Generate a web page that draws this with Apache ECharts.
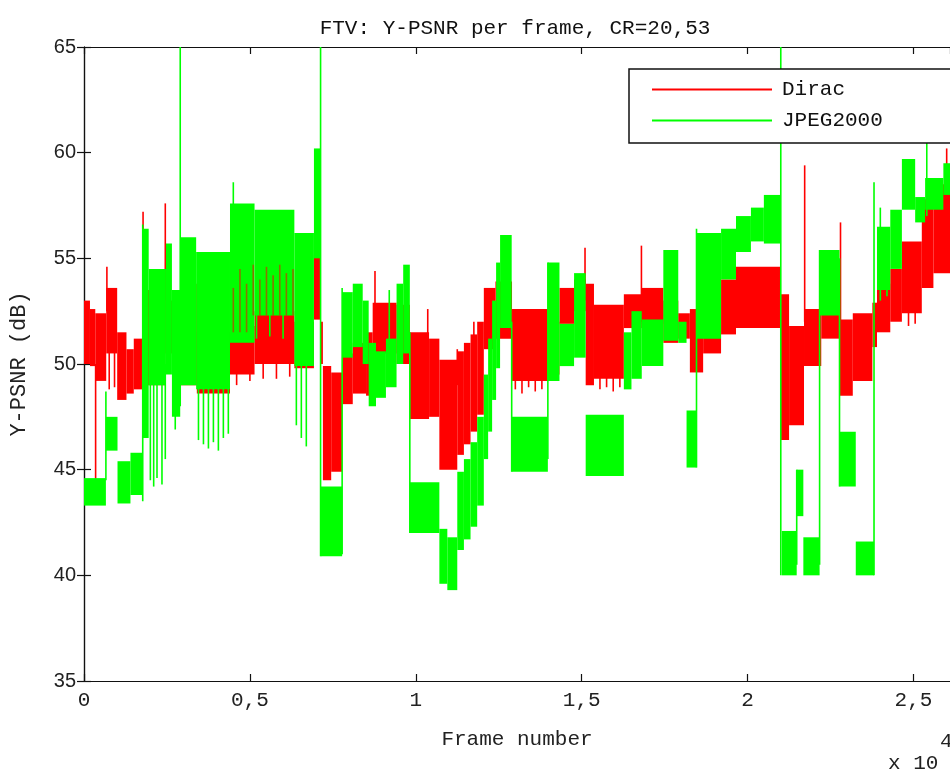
<!DOCTYPE html>
<html>
<head>
<meta charset="utf-8">
<script src="https://cdn.jsdelivr.net/npm/echarts@6/dist/echarts.min.js"></script>
<style>
  html, body { margin: 0; padding: 0; background: #fff; }
  #chart { width: 950px; height: 776px; }
</style>
</head>
<body>
<div id="chart"></div>
<script>
// Frame positions are in units of 10^4 frames; PSNR in dB.
// Dense per-frame traces are stored as envelope blocks [x0, x1, low, high]
// plus isolated strokes [x, low, high].

const diracBands = [
  [0.000, 0.018, 50.0, 53.0], [0.018, 0.034, 49.9, 52.6], [0.034, 0.067, 49.2, 52.4],
  [0.067, 0.100, 50.5, 53.6], [0.100, 0.128, 48.3, 51.5], [0.128, 0.150, 48.6, 50.7],
  [0.150, 0.178, 48.8, 51.2], [0.178, 0.245, 49.0, 53.5], [0.245, 0.262, 50.5, 55.0],
  [0.262, 0.290, 50.5, 53.0], [0.290, 0.340, 49.0, 53.8], [0.340, 0.440, 48.6, 51.5],
  [0.440, 0.514, 49.5, 51.8], [0.514, 0.634, 50.0, 52.5], [0.634, 0.693, 49.8, 52.0],
  [0.693, 0.712, 52.1, 55.2], [0.712, 0.720, 50.0, 52.0], [0.720, 0.745, 44.5, 49.9],
  [0.745, 0.778, 44.9, 49.6], [0.778, 0.810, 48.1, 50.5], [0.810, 0.850, 48.6, 51.0],
  [0.850, 0.870, 48.5, 51.5], [0.870, 0.942, 50.5, 52.9], [0.942, 0.982, 50.0, 52.8],
  [0.982, 1.040, 47.4, 51.5], [1.040, 1.071, 47.5, 51.2], [1.071, 1.125, 45.0, 50.2],
  [1.125, 1.145, 45.7, 50.6], [1.145, 1.165, 46.2, 51.0], [1.165, 1.185, 46.8, 51.4],
  [1.185, 1.205, 47.6, 52.0], [1.205, 1.240, 50.7, 53.6], [1.240, 1.290, 51.2, 53.9],
  [1.290, 1.398, 49.2, 52.6], [1.398, 1.433, 49.5, 52.0], [1.433, 1.477, 51.9, 53.6],
  [1.477, 1.512, 52.5, 54.0], [1.512, 1.537, 49.0, 53.8], [1.537, 1.627, 49.3, 52.8],
  [1.627, 1.681, 51.7, 53.3], [1.681, 1.746, 51.9, 53.6], [1.746, 1.791, 51.0, 53.0],
  [1.791, 1.826, 51.2, 52.4], [1.826, 1.866, 49.6, 52.6], [1.866, 1.920, 50.5, 52.0],
  [1.920, 1.965, 51.4, 54.0], [1.965, 2.099, 51.7, 54.6], [2.099, 2.125, 46.4, 53.3],
  [2.125, 2.170, 47.1, 51.8], [2.170, 2.222, 49.9, 52.6], [2.222, 2.277, 51.2, 53.3],
  [2.277, 2.317, 48.5, 52.1], [2.317, 2.376, 49.2, 52.4], [2.376, 2.390, 50.8, 52.9],
  [2.390, 2.430, 51.5, 53.8], [2.430, 2.465, 52.0, 54.5], [2.465, 2.525, 52.4, 55.8],
  [2.525, 2.560, 53.6, 57.8], [2.560, 2.610, 54.3, 58.5]
];

const diracSpikes = [
  [0.035, 44.5, 50.0], [0.069, 52.5, 54.6], [0.076, 48.8, 51.0], [0.092, 48.9, 51.0],
  [0.178, 55.0, 57.2], [0.245, 53.0, 57.6], [0.330, 51.5, 54.2],
  [0.460, 49.0, 51.0], [0.500, 49.2, 51.0], [0.540, 49.3, 51.0], [0.580, 49.3, 51.0],
  [0.620, 49.4, 51.0], [0.877, 52.5, 54.4], [1.036, 51.0, 52.6], [1.125, 49.0, 50.7],
  [1.175, 50.0, 52.0], [1.300, 48.8, 50.0], [1.320, 48.6, 50.0], [1.340, 48.9, 50.0],
  [1.360, 48.7, 50.0], [1.380, 48.8, 50.0], [1.510, 53.0, 55.5], [1.555, 48.8, 50.0],
  [1.575, 48.9, 50.0], [1.595, 48.7, 50.0], [1.615, 48.9, 50.0], [1.680, 52.0, 55.6],
  [2.172, 52.0, 59.4], [2.280, 51.5, 56.7], [2.485, 51.8, 53.0], [2.505, 51.9, 53.0],
  [2.600, 57.0, 60.2]
];

// Dirac strokes that show through the JPEG2000 trace
const diracOverlay = [
  [0.450, 51.5, 53.6], [0.470, 51.5, 54.5], [0.490, 51.5, 53.8], [0.510, 52.3, 54.7],
  [0.530, 52.3, 54.0], [0.550, 52.3, 54.6], [0.570, 52.3, 54.2], [0.590, 52.3, 54.7],
  [0.610, 52.3, 54.3], [0.630, 52.3, 54.5]
];

const jpegBands = [
  [0.000, 0.066, 43.3, 44.6], [0.066, 0.101, 45.9, 47.5], [0.101, 0.140, 43.4, 45.4],
  [0.140, 0.177, 43.8, 45.8], [0.177, 0.195, 46.5, 56.4], [0.195, 0.247, 49.0, 54.5],
  [0.247, 0.265, 49.5, 55.7], [0.265, 0.290, 47.5, 53.5], [0.290, 0.338, 49.0, 56.0],
  [0.338, 0.440, 48.8, 55.3], [0.440, 0.514, 51.0, 57.6], [0.514, 0.634, 52.3, 57.3],
  [0.634, 0.693, 49.9, 56.2], [0.693, 0.713, 55.0, 60.2], [0.713, 0.778, 40.9, 44.2],
  [0.778, 0.810, 50.3, 53.4], [0.810, 0.840, 50.8, 53.8], [0.840, 0.858, 50.0, 53.0],
  [0.858, 0.880, 48.0, 51.0], [0.880, 0.910, 48.4, 50.6], [0.910, 0.942, 48.9, 51.2],
  [0.942, 0.962, 50.0, 53.8], [0.962, 0.982, 50.5, 54.7], [0.982, 1.071, 42.0, 44.4],
  [1.071, 1.095, 39.6, 42.2], [1.095, 1.125, 39.3, 41.8], [1.125, 1.145, 41.2, 44.9],
  [1.145, 1.165, 41.7, 45.5], [1.165, 1.185, 42.3, 46.3], [1.185, 1.205, 43.3, 47.5],
  [1.205, 1.218, 45.5, 49.5], [1.218, 1.230, 46.8, 51.2], [1.230, 1.242, 48.3, 53.0],
  [1.242, 1.254, 49.8, 54.8], [1.254, 1.289, 51.7, 56.1], [1.289, 1.398, 44.9, 47.5],
  [1.398, 1.433, 49.2, 54.8], [1.433, 1.477, 49.9, 51.9], [1.477, 1.512, 50.3, 54.3],
  [1.512, 1.627, 44.7, 47.6], [1.627, 1.650, 48.8, 51.5], [1.650, 1.681, 49.3, 52.5],
  [1.681, 1.746, 49.9, 52.1], [1.746, 1.791, 51.1, 55.4], [1.791, 1.816, 51.0, 52.0],
  [1.816, 1.846, 45.1, 47.8], [1.846, 1.920, 51.2, 56.2], [1.920, 1.965, 54.0, 56.4],
  [1.965, 2.010, 55.3, 57.0], [2.010, 2.049, 55.8, 57.4], [2.049, 2.099, 55.7, 58.0],
  [2.103, 2.148, 40.0, 42.1], [2.148, 2.168, 42.8, 45.0], [2.168, 2.217, 40.0, 41.8],
  [2.217, 2.277, 52.3, 55.4], [2.277, 2.326, 44.2, 46.8], [2.326, 2.381, 40.0, 41.6],
  [2.390, 2.430, 53.5, 56.5], [2.430, 2.465, 54.5, 57.3], [2.465, 2.505, 57.3, 59.7],
  [2.505, 2.535, 56.7, 57.9], [2.535, 2.590, 57.3, 58.8], [2.590, 2.610, 58.0, 59.5]
];

const jpegSpikes = [
  [0.066, 44.5, 48.7], [0.177, 43.5, 56.6], [0.200, 44.5, 50.0], [0.210, 44.2, 50.0],
  [0.220, 44.6, 50.0], [0.235, 44.3, 50.0], [0.245, 45.5, 50.0], [0.275, 46.9, 50.0],
  [0.290, 48.0, 65.0], [0.345, 46.4, 50.0], [0.360, 46.2, 50.0], [0.375, 46.0, 50.0],
  [0.390, 46.3, 50.0], [0.405, 45.9, 50.0], [0.420, 46.5, 50.0], [0.435, 46.7, 50.0],
  [0.450, 56.0, 58.6], [0.520, 51.2, 53.0], [0.560, 51.3, 53.0], [0.600, 51.2, 53.0],
  [0.640, 47.1, 50.0], [0.655, 46.5, 50.0], [0.670, 46.1, 50.0], [0.713, 40.9, 65.0],
  [0.778, 41.0, 53.6], [0.920, 50.5, 53.5], [0.982, 42.0, 51.5], [1.289, 44.9, 52.0],
  [1.398, 45.5, 54.8], [1.846, 45.1, 56.4], [2.100, 40.0, 65.0], [2.148, 40.5, 45.0],
  [2.217, 40.5, 55.4], [2.277, 44.2, 55.0], [2.381, 40.0, 58.6], [2.400, 53.0, 57.4],
  [2.420, 53.2, 55.0], [2.540, 57.0, 60.7]
];

const yTicks = { min: 35, max: 65, step: 5 };
const xTicks = { min: 0, max: 2.61, step: 0.5 };

const RED = '#ff0000';
const GREEN = '#00ff00';
const MONO = '"Liberation Mono", "DejaVu Sans Mono", monospace';
const SANS = '"Liberation Sans", Arial, sans-serif';

function bandRenderer(color) {
  return function (params, api) {
    const cs = params.coordSys;
    const a = api.coord([api.value(0), api.value(3)]);
    const b = api.coord([api.value(1), api.value(2)]);
    const top = Math.max(a[1], cs.y);
    const bottom = Math.min(b[1], cs.y + cs.height);
    const left = Math.max(a[0], cs.x);
    const right = Math.min(b[0], cs.x + cs.width);
    return {
      type: 'rect',
      shape: { x: left, y: top, width: Math.max(right - left, 1), height: bottom - top },
      style: { fill: color }
    };
  };
}

function spikeRenderer(color, width, opacity) {
  return function (params, api) {
    const cs = params.coordSys;
    const a = api.coord([api.value(0), api.value(2)]);
    const b = api.coord([api.value(0), api.value(1)]);
    return {
      type: 'line',
      shape: { x1: a[0], y1: Math.max(a[1], cs.y), x2: b[0], y2: Math.min(b[1], cs.y + cs.height) },
      style: { stroke: color, lineWidth: width, opacity: opacity }
    };
  };
}

const chart = echarts.init(document.getElementById('chart'), null, { renderer: 'canvas' });

const axisLine = { show: true, lineStyle: { color: '#111', width: 1.2 } };
const axisTick = { show: true, inside: true, length: 7, lineStyle: { color: '#111', width: 1.2 } };

chart.setOption({
  animation: false,
  backgroundColor: '#fff',
  grid: { left: 84, top: 47, width: 867.6, height: 634, containLabel: false },
  legend: {
    left: 629, top: 69,
    orient: 'vertical',
    backgroundColor: '#fff',
    borderColor: '#111', borderWidth: 1.5, borderRadius: 0,
    padding: [10, 77, 12, 23],
    itemGap: 10,
    itemWidth: 120, itemHeight: 2,
    textStyle: { fontFamily: MONO, fontSize: 21, color: '#111', padding: [0, 0, 0, 5] },
    data: [{ name: 'Dirac', icon: 'rect' }, { name: 'JPEG2000', icon: 'rect' }],
    selectedMode: false,
    z: 10
  },
  xAxis: [
    {
      type: 'value', position: 'bottom',
      min: xTicks.min, max: xTicks.max, interval: xTicks.step,
      axisLine: axisLine, axisTick: axisTick, splitLine: { show: false },
      axisLabel: {
        margin: 9, showMaxLabel: false,
        fontFamily: MONO, fontSize: 21, color: '#222',
        formatter: v => String(v).replace('.', ',')
      },
      name: 'Frame number', nameLocation: 'middle', nameGap: 48,
      nameTextStyle: { fontFamily: MONO, fontSize: 21, color: '#222' }
    },
    {
      type: 'value', position: 'top',
      min: xTicks.min, max: xTicks.max, interval: xTicks.step,
      axisLine: axisLine, axisTick: axisTick, splitLine: { show: false },
      axisLabel: { show: false }
    }
  ],
  yAxis: [
    {
      type: 'value', position: 'left',
      min: yTicks.min, max: yTicks.max, interval: yTicks.step,
      axisLine: axisLine, axisTick: axisTick, splitLine: { show: false },
      axisLabel: { margin: 8, fontFamily: SANS, fontSize: 20, color: '#222' },
      name: 'Y-PSNR (dB)', nameLocation: 'middle', nameGap: 54, nameRotate: 90,
      nameTextStyle: { fontFamily: MONO, fontSize: 22, color: '#222' }
    },
    {
      type: 'value', position: 'right',
      min: yTicks.min, max: yTicks.max, interval: yTicks.step,
      axisLine: axisLine, axisTick: axisTick, splitLine: { show: false },
      axisLabel: { show: false }
    }
  ],
  graphic: [
    {
      type: 'text', x: 515, y: 28, z: 20,
      style: {
        text: 'FTV: Y-PSNR per frame, CR=20,53',
        font: '21px ' + MONO, fill: '#111',
        textAlign: 'center', textVerticalAlign: 'middle'
      }
    },
    {
      type: 'text', x: 888, y: 763, z: 20,
      style: { text: 'x 10', font: '21px ' + MONO, fill: '#222', textVerticalAlign: 'middle' }
    },
    {
      type: 'text', x: 940, y: 741, z: 20,
      style: { text: '4', font: '21px ' + MONO, fill: '#222', textVerticalAlign: 'middle' }
    }
  ],
  series: [
    {
      type: 'custom', name: 'Dirac', itemStyle: { color: RED },
      renderItem: bandRenderer(RED), encode: { x: [0, 1], y: [2, 3] },
      data: diracBands, z: 2
    },
    {
      type: 'custom', name: 'Dirac', itemStyle: { color: RED },
      renderItem: spikeRenderer(RED, 1.6, 1), encode: { x: 0, y: [1, 2] },
      data: diracSpikes, z: 2
    },
    {
      type: 'custom', name: 'JPEG2000', itemStyle: { color: GREEN },
      renderItem: bandRenderer(GREEN), encode: { x: [0, 1], y: [2, 3] },
      data: jpegBands, z: 3
    },
    {
      type: 'custom', name: 'JPEG2000', itemStyle: { color: GREEN },
      renderItem: spikeRenderer(GREEN, 1.6, 1), encode: { x: 0, y: [1, 2] },
      data: jpegSpikes, z: 3
    },
    {
      type: 'custom', name: 'Dirac', itemStyle: { color: RED },
      renderItem: spikeRenderer(RED, 1.6, 0.55), encode: { x: 0, y: [1, 2] },
      data: diracOverlay, z: 4
    }
  ]
});
</script>
</body>
</html>
